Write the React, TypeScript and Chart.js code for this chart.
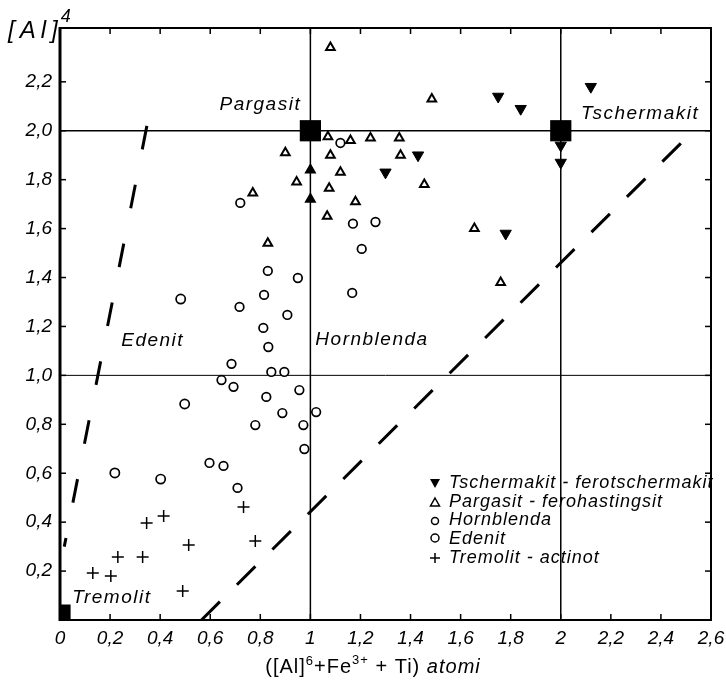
import React, { useEffect, useRef } from "react";
import { Chart, registerables } from "chart.js";
Chart.register(...registerables);

// ---- axis ticks ----
const xTickValues = [0, 0.2, 0.4, 0.6, 0.8, 1, 1.2, 1.4, 1.6, 1.8, 2, 2.2, 2.4, 2.6];
const xTickLabels = ["0", "0,2", "0,4", "0,6", "0,8", "1", "1,2", "1,4", "1,6", "1,8", "2", "2,2", "2,4", "2,6"];
const yTickValues = [0.2, 0.4, 0.6, 0.8, 1.0, 1.2, 1.4, 1.6, 1.8, 2.0, 2.2];
const yTickLabels = ["0,2", "0,4", "0,6", "0,8", "1,0", "1,2", "1,4", "1,6", "1,8", "2,0", "2,2"];

// ---- series ----
const tscherX = [1.75, 1.84, 2.12, 2.0, 2.0, 1.43, 1.3, 1.78];
const tscherY = [2.14, 2.09, 2.18, 1.94, 1.87, 1.9, 1.83, 1.58];

const pargasitX = [1.08, 1.485, 1.07, 1.16, 1.24, 1.355, 0.9, 1.08, 1.36, 1.12, 0.945, 1.075, 1.455, 0.77, 1.18, 1.067, 0.83, 1.655, 1.76];
const pargasitY = [2.34, 2.13, 1.975, 1.96, 1.97, 1.97, 1.91, 1.9, 1.9, 1.83, 1.79, 1.765, 1.78, 1.745, 1.71, 1.65, 1.54, 1.6, 1.38];
const pargasitSolidX = [1.0, 1.0];
const pargasitSolidY = [1.84, 1.72];

const hornblendaX = [1.12, 0.72, 1.17, 1.26, 1.205, 0.83, 0.95, 0.815, 1.167, 0.717, 0.908, 0.812, 0.832, 0.685, 0.844, 0.896, 0.645, 0.693, 0.956, 0.824, 1.023, 0.888, 0.78, 0.972, 0.976, 0.597, 0.653, 0.709];
const hornblendaY = [1.95, 1.705, 1.62, 1.627, 1.517, 1.427, 1.398, 1.329, 1.337, 1.28, 1.247, 1.194, 1.116, 1.047, 1.014, 1.014, 0.981, 0.953, 0.94, 0.912, 0.85, 0.846, 0.797, 0.797, 0.699, 0.642, 0.63, 0.54];

const edenitX = [0.482, 0.498, 0.219, 0.402];
const edenitY = [1.312, 0.883, 0.601, 0.576];

const tremolitX = [0.131, 0.203, 0.231, 0.33, 0.346, 0.414, 0.514, 0.49, 0.733, 0.78];
const tremolitY = [0.192, 0.18, 0.258, 0.258, 0.397, 0.425, 0.307, 0.119, 0.462, 0.323];

const endX = [1.0, 2.0, 0.0];
const endY = [2.0, 2.0, 0.02];

// ---- reference lines ----
const leftDashX = [0.347, 0.017];
const leftDashY = [2.02, 0.3];
const rightDashX = [0.565, 2.53];
const rightDashY = [0.0, 2.0];

const legendLabels = [
  "Tschermakit - ferotschermakit",
  "Pargasit - ferohastingsit",
  "Hornblenda",
  "Edenit",
  "Tremolit - actinot",
];

const regionNames = ["Pargasit", "Tschermakit", "Edenit", "Hornblenda", "Tremolit"];
const regionX = [0.8, 2.317, 0.37, 1.246, 0.207];
const regionY = [2.105, 2.07, 1.14, 1.145, 0.09];

const FONT = "'Liberation Sans', Arial, sans-serif";

const pts = (xs: number[], ys: number[]) => xs.map((x, i) => ({ x, y: ys[i] }));

const decor = {
  id: "decor",
  afterDraw(chart: any) {
    const { ctx, chartArea: a } = chart;
    const xs = chart.scales.x;
    const ys = chart.scales.y;
    const line = (x1: number, y1: number, x2: number, y2: number) => {
      ctx.beginPath();
      ctx.moveTo(x1, y1);
      ctx.lineTo(x2, y2);
      ctx.stroke();
    };
    ctx.save();
    ctx.strokeStyle = "#000";
    ctx.fillStyle = "#000";
    // tick marks (inward)
    ctx.lineWidth = 1.5;
    xTickValues.forEach((v) => {
      const px = xs.getPixelForValue(v);
      line(px, a.bottom, px, a.bottom - 6);
      line(px, a.top, px, a.top + 6);
    });
    yTickValues.forEach((v) => {
      const py = ys.getPixelForValue(v);
      line(a.left, py, a.left + 6, py);
      line(a.right, py, a.right - 6, py);
    });
    // frame
    ctx.lineWidth = 2;
    ctx.strokeRect(a.left, a.top, a.right - a.left, a.bottom - a.top);
    ctx.lineWidth = 3;
    line(a.left, a.top - 1, a.left, a.bottom + 1);

    // region labels
    ctx.font = `italic 19px ${FONT}`;
    (ctx as any).letterSpacing = "1.5px";
    ctx.textAlign = "center";
    ctx.textBaseline = "middle";
    regionNames.forEach((t, i) => {
      ctx.fillText(t, xs.getPixelForValue(regionX[i]), ys.getPixelForValue(regionY[i]));
    });

    // legend
    const lx = 435;
    const rows = [483, 502, 520, 539, 558];
    ctx.textAlign = "left";
    ctx.font = `italic 18px ${FONT}`;
    (ctx as any).letterSpacing = "1px";
    legendLabels.forEach((t, i) => {
      const ry = rows[i];
      ctx.lineWidth = 1.5;
      if (i === 0) {
        ctx.beginPath();
        ctx.moveTo(lx - 5, ry - 4);
        ctx.lineTo(lx + 5, ry - 4);
        ctx.lineTo(lx, ry + 5);
        ctx.closePath();
        ctx.fill();
      } else if (i === 1) {
        ctx.beginPath();
        ctx.moveTo(lx, ry - 4);
        ctx.lineTo(lx + 4.5, ry + 4);
        ctx.lineTo(lx - 4.5, ry + 4);
        ctx.closePath();
        ctx.stroke();
      } else if (i === 2) {
        ctx.beginPath();
        ctx.arc(lx, ry + 1, 3.5, 0, Math.PI * 2);
        ctx.stroke();
      } else if (i === 3) {
        ctx.beginPath();
        ctx.arc(lx, ry - 1, 4, 0, Math.PI * 2);
        ctx.stroke();
      } else {
        line(lx - 5, ry, lx + 5, ry);
        line(lx, ry - 5, lx, ry + 5);
      }
      ctx.fillText(t, lx + 14, ry);
    });

    // y axis title
    ctx.textBaseline = "alphabetic";
    ctx.font = `italic 24px ${FONT}`;
    (ctx as any).letterSpacing = "5px";
    ctx.fillText("[Al]", 8, 38);
    const wAl = ctx.measureText("[Al]").width;
    (ctx as any).letterSpacing = "0px";
    ctx.font = `italic 18px ${FONT}`;
    ctx.fillText("4", 8 + wAl - 2, 22);

    // x axis title
    (ctx as any).letterSpacing = "1px";
    const parts: [string, string, number][] = [
      ["([Al]", `20px ${FONT}`, 0],
      ["6", `13px ${FONT}`, -8],
      ["+Fe", `20px ${FONT}`, 0],
      ["3+", `13px ${FONT}`, -9],
      [" + Ti) ", `20px ${FONT}`, 0],
      ["atomi", `italic 20px ${FONT}`, 0],
    ];
    let total = 0;
    parts.forEach(([t, f]) => {
      ctx.font = f;
      total += ctx.measureText(t).width;
    });
    let cx = 373 - total / 2;
    const base = 673;
    parts.forEach(([t, f, dy]) => {
      ctx.font = f;
      ctx.fillText(t, cx, base + dy);
      cx += ctx.measureText(t).width;
    });
    ctx.restore();
  },
};

export default function App() {
  const ref = useRef<HTMLCanvasElement>(null);
  useEffect(() => {
    if (!ref.current) return;
    const tickFont = { family: FONT, size: 19, style: "italic" as const };
    const refLine = (xs: number[], ys: number[], width: number, dash: number[] = []) => ({
      data: pts(xs, ys),
      showLine: true,
      borderColor: "#000",
      borderWidth: width,
      borderDash: dash,
      pointRadius: 0,
      fill: false,
    });
    const chart = new Chart(ref.current, {
      type: "scatter",
      data: {
        datasets: [
          {
            data: pts(endX, endY),
            pointStyle: "rect",
            pointRadius: 15,
            backgroundColor: "#000",
            borderColor: "#000",
            borderWidth: 0,
            clip: 0,
          } as any,
          {
            data: pts(tscherX, tscherY),
            pointStyle: "triangle",
            rotation: 180,
            pointRadius: 6.5,
            backgroundColor: "#000",
            borderColor: "#000",
            borderWidth: 1,
          },
          {
            data: pts(pargasitX, pargasitY),
            pointStyle: "triangle",
            pointRadius: 5,
            backgroundColor: "#fff",
            borderColor: "#000",
            borderWidth: 2,
          },
          {
            data: pts(pargasitSolidX, pargasitSolidY),
            pointStyle: "triangle",
            pointRadius: 5.5,
            backgroundColor: "#000",
            borderColor: "#000",
            borderWidth: 1.5,
          },
          {
            data: pts(hornblendaX, hornblendaY),
            pointStyle: "circle",
            pointRadius: 4.3,
            backgroundColor: "#fff",
            borderColor: "#000",
            borderWidth: 1.7,
          },
          {
            data: pts(edenitX, edenitY),
            pointStyle: "circle",
            pointRadius: 4.6,
            backgroundColor: "#fff",
            borderColor: "#000",
            borderWidth: 1.7,
          },
          {
            data: pts(tremolitX, tremolitY),
            pointStyle: "cross",
            pointRadius: 6,
            borderColor: "#000",
            borderWidth: 1.5,
          },
          refLine([0, 2.6], [2, 2], 1.5),
          refLine([0, 2.6], [1, 1], 1),
          refLine([1, 1], [0, 2.42], 1.5),
          refLine([2, 2], [0, 2.42], 1.5),
          refLine(leftDashX, leftDashY, 3, [24, 36]),
          refLine(rightDashX, rightDashY, 3, [26, 24]),
        ] as any,
      },
      options: {
        animation: false,
        responsive: true,
        maintainAspectRatio: false,
        events: [],
        layout: { padding: { top: 28, right: 13, left: 0, bottom: 0 } },
        plugins: { legend: { display: false }, tooltip: { enabled: false } },
        scales: {
          x: {
            type: "linear",
            min: 0,
            max: 2.6,
            grid: { display: false, drawTicks: false },
            border: { display: false },
            ticks: {
              padding: 7,
              autoSkip: false,
              maxRotation: 0,
              color: "#000",
              font: tickFont,
              callback: (_v: any, i: number) => xTickLabels[i] ?? "",
            },
            afterBuildTicks: (s: any) => {
              s.ticks = xTickValues.map((v) => ({ value: v }));
            },
            afterFit: (s: any) => {
              s.height = 66;
              s.paddingLeft = 0;
              s.paddingRight = 0;
            },
          },
          y: {
            type: "linear",
            min: 0,
            max: 2.42,
            grid: { display: false, drawTicks: false },
            border: { display: false },
            ticks: {
              padding: 8,
              autoSkip: false,
              color: "#000",
              font: tickFont,
              callback: (_v: any, i: number) => yTickLabels[i] ?? "",
            },
            afterBuildTicks: (s: any) => {
              s.ticks = yTickValues.map((v) => ({ value: v }));
            },
            afterFit: (s: any) => {
              s.width = 60;
              s.paddingTop = 0;
              s.paddingBottom = 0;
            },
          },
        },
      } as any,
      plugins: [decor],
    });
    return () => chart.destroy();
  }, []);
  return (
    <div style={{ position: "absolute", left: 0, top: 0, width: 726, height: 686, background: "#fff" }}>
      <canvas ref={ref} />
    </div>
  );
}
